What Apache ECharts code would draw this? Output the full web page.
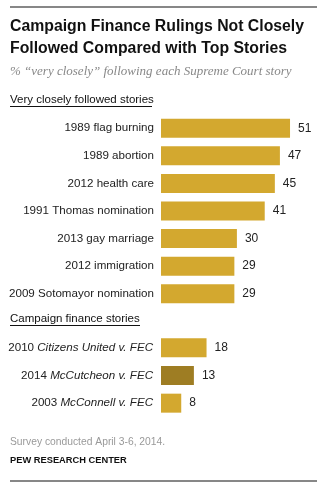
<!DOCTYPE html>
<html>
<head>
<meta charset="utf-8">
<script src="https://cdn.jsdelivr.net/npm/echarts@6/dist/echarts.min.js"></script>
<style>
html,body{margin:0;padding:0;background:#fff;}
#c{width:330px;height:492px;}
</style>
</head>
<body>
<div id="c"></div>
<script>
const topCategories = ['1989 flag burning', '1989 abortion', '2012 health care', '1991 Thomas nomination', '2013 gay marriage', '2012 immigration', '2009 Sotomayor nomination'];
const topValues = [51, 47, 45, 41, 30, 29, 29];
const financeYears = ['2010', '2014', '2003'];
const financeCases = ['Citizens United v. FEC', 'McCutcheon v. FEC', 'McConnell v. FEC'];
const financeValues = [18, 13, 8];
const highlightCase = 'McCutcheon v. FEC';

const titleLines = ['Campaign Finance Rulings Not Closely', 'Followed Compared with Top Stories'];
const subtitleText = '% \u201cvery closely\u201d following each Supreme Court story';
const section1 = 'Very closely followed stories';
const section2 = 'Campaign finance stories';
const noteText = 'Survey conducted April 3-6, 2014.';
const sourceText = 'PEW RESEARCH CENTER';

const financeCategories = financeYears.map((y, i) => y + '|' + financeCases[i]);

const GOLD = '#D3A82F';
const DARK = '#9E7D23';
const SANS = '"Liberation Sans", Arial, sans-serif';
const PX = 2.53;
const XMAX = 60;

const chart = echarts.init(document.getElementById('c'));

const labelStyle = { show: true, position: 'right', distance: 8, color: '#222', fontSize: 12, fontFamily: SANS };

chart.setOption({
  animation: false,
  backgroundColor: '#fff',
  grid: [
    { left: 161, width: XMAX * PX, top: 114.5, height: 193 },
    { left: 161, width: XMAX * PX, top: 334, height: 83 }
  ],
  xAxis: [
    { gridIndex: 0, type: 'value', min: 0, max: XMAX, show: false },
    { gridIndex: 1, type: 'value', min: 0, max: XMAX, show: false }
  ],
  yAxis: [
    { gridIndex: 0, type: 'category', data: topCategories, inverse: true,
      axisLine: { show: false }, axisTick: { show: false }, splitLine: { show: false },
      axisLabel: { margin: 7, color: '#222', fontSize: 11.6, fontFamily: SANS } },
    { gridIndex: 1, type: 'category', data: financeCategories, inverse: true,
      axisLine: { show: false }, axisTick: { show: false }, splitLine: { show: false },
      axisLabel: { margin: 8, color: '#222', fontSize: 11.6, fontFamily: SANS,
        formatter: function (v) { const p = v.split('|'); return '{n|' + p[0] + ' }{i|' + p[1] + '}'; },
        rich: { n: { fontSize: 11.6, fontFamily: SANS, color: '#222' },
                i: { fontSize: 11.6, fontFamily: SANS, fontStyle: 'italic', color: '#222' } } } }
  ],
  series: [
    { type: 'bar', xAxisIndex: 0, yAxisIndex: 0, data: topValues, barWidth: 19,
      itemStyle: { color: GOLD }, label: labelStyle },
    { type: 'bar', xAxisIndex: 1, yAxisIndex: 1, barWidth: 19,
      data: financeValues.map((v, i) => ({ value: v, itemStyle: { color: financeCases[i] === highlightCase ? DARK : GOLD } })),
      label: labelStyle }
  ],
  graphic: [
    { type: 'line', shape: { x1: 10, y1: 7, x2: 317, y2: 7 }, style: { stroke: '#111', lineWidth: 1.2 } },
    { type: 'text', left: 10, top: 19, style: { text: titleLines[0], font: 'bold 15.8px ' + SANS, fill: '#111' } },
    { type: 'text', left: 10, top: 41, style: { text: titleLines[1], font: 'bold 15.8px ' + SANS, fill: '#111' } },
    { type: 'text', left: 10, top: 65, style: { text: subtitleText, font: 'italic 13px "Liberation Serif", "Times New Roman", serif', fill: '#888' } },
    { type: 'text', left: 10, top: 94, style: { text: section1, font: '11.5px ' + SANS, fill: '#111' } },
    { type: 'line', shape: { x1: 10, y1: 106.5, x2: 152, y2: 106.5 }, style: { stroke: '#111', lineWidth: 1 } },
    { type: 'text', left: 10, top: 313, style: { text: section2, font: '11.5px ' + SANS, fill: '#111' } },
    { type: 'line', shape: { x1: 10, y1: 325.5, x2: 140, y2: 325.5 }, style: { stroke: '#111', lineWidth: 1 } },
    { type: 'text', left: 10, top: 437, style: { text: noteText, font: '10.3px ' + SANS, fill: '#999' } },
    { type: 'text', left: 10, top: 456, style: { text: sourceText, font: 'bold 9.3px ' + SANS, fill: '#111' } },
    { type: 'line', shape: { x1: 10, y1: 481, x2: 317, y2: 481 }, style: { stroke: '#111', lineWidth: 1.2 } }
  ]
});
</script>
</body>
</html>
